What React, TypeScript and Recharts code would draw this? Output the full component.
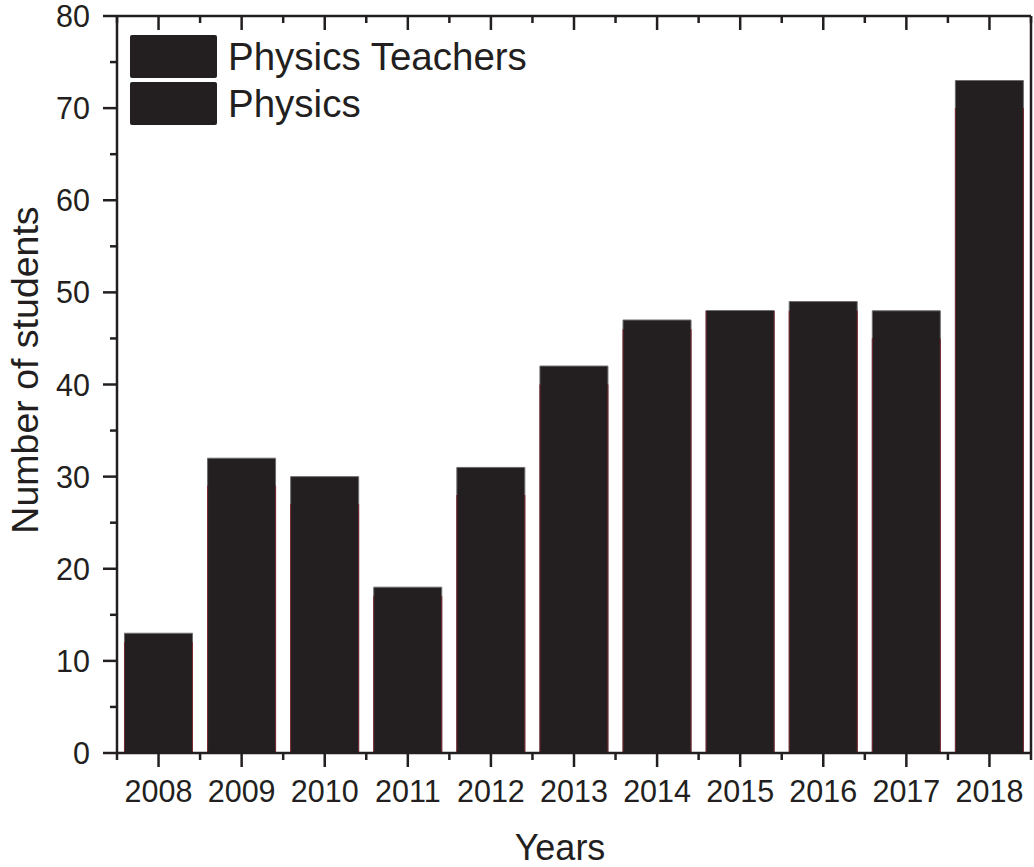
import React from 'react';
import { BarChart, Bar, XAxis, YAxis, Legend } from 'recharts';

// values
const years = ['2008', '2009', '2010', '2011', '2012', '2013', '2014', '2015', '2016', '2017', '2018'];
const physicsTeachers = [13, 32, 30, 18, 31, 42, 47, 48, 49, 48, 73];
const physics = [12, 29, 27, 17, 28, 40, 46, 48, 48, 45, 70];
const yTicks = [0, 5, 10, 15, 20, 25, 30, 35, 40, 45, 50, 55, 60, 65, 70, 75, 80];

const data = years.map((year, i) => ({
  year,
  teachers: physicsTeachers[i],
  physics: physics[i],
}));

const INK = '#231f20';
const EDGE_RED = '#7a2a31';
const FONT = '"Liberation Sans", Arial, sans-serif';
const PLOT_LEFT = 117;
const PLOT_RIGHT = 1031;
const BAND = (PLOT_RIGHT - PLOT_LEFT) / years.length;

const BottomTick = (props: any) => {
  const { x, y, payload, index } = props;
  return (
    <g>
      <line x1={x} y1={y} x2={x} y2={y + 14} stroke={INK} strokeWidth={2.5} />
      <line x1={x - BAND / 2} y1={y} x2={x - BAND / 2} y2={y + 7} stroke={INK} strokeWidth={2.5} />
      {index === years.length - 1 && (
        <line x1={x + BAND / 2} y1={y} x2={x + BAND / 2} y2={y + 7} stroke={INK} strokeWidth={2.5} />
      )}
      <text x={x} y={y + 49} textAnchor="middle" fontSize={30.5} fill={INK} fontFamily={FONT}>
        {payload.value}
      </text>
    </g>
  );
};

const TopTick = (props: any) => {
  const { x, y, index } = props;
  return (
    <g>
      <line x1={x} y1={y} x2={x} y2={y + 14} stroke={INK} strokeWidth={2.5} />
      <line x1={x - BAND / 2} y1={y} x2={x - BAND / 2} y2={y + 7} stroke={INK} strokeWidth={2.5} />
      {index === years.length - 1 && (
        <line x1={x + BAND / 2} y1={y} x2={x + BAND / 2} y2={y + 7} stroke={INK} strokeWidth={2.5} />
      )}
    </g>
  );
};

const LeftTick = (props: any) => {
  const { x, y, payload } = props;
  const major = payload.value % 10 === 0;
  return (
    <g>
      <line x1={x - (major ? 14 : 7)} y1={y} x2={x} y2={y} stroke={INK} strokeWidth={2.5} />
      {major && (
        <text x={x - 27} y={y + 11} textAnchor="end" fontSize={30.5} fill={INK} fontFamily={FONT}>
          {payload.value}
        </text>
      )}
    </g>
  );
};

const RightTick = (props: any) => {
  const { x, y, payload } = props;
  const major = payload.value % 10 === 0;
  return <line x1={x - (major ? 14 : 7)} y1={y} x2={x} y2={y} stroke={INK} strokeWidth={2.5} />;
};

// physics bars: dark fill with thin reddish side edges only
const PhysicsBar = (props: any) => {
  const { x, y, width, height } = props;
  if (!height || height <= 0) return null;
  return (
    <g>
      <rect x={x} y={y} width={width} height={height} fill={INK} />
      <line x1={x} y1={y} x2={x} y2={y + height} stroke={EDGE_RED} strokeWidth={1} />
      <line x1={x + width} y1={y} x2={x + width} y2={y + height} stroke={EDGE_RED} strokeWidth={1} />
    </g>
  );
};

const legendItems = ['Physics Teachers', 'Physics'];

const ChartLegend = () => (
  <div style={{ fontFamily: FONT }}>
    {legendItems.map((name) => (
      <div key={name} style={{ display: 'flex', alignItems: 'center', height: 43, marginBottom: 4 }}>
        <div style={{ width: 87, height: 43, background: INK, borderRadius: 2 }} />
        <span style={{ marginLeft: 11, fontSize: 38.5, color: INK, lineHeight: '43px', whiteSpace: 'nowrap' }}>
          {name}
        </span>
      </div>
    ))}
  </div>
);

export default function App() {
  return (
    <div style={{ position: 'absolute', left: 0, top: 0, background: '#fff' }}>
      <BarChart
        width={1034}
        height={867}
        data={data}
        margin={{ top: 0, right: 0, bottom: 0, left: 0 }}
        barCategoryGap="9%"
      >
        <XAxis
          xAxisId="bottom"
          dataKey="year"
          orientation="bottom"
          height={114}
          interval={0}
          tickLine={false}
          tickSize={0}
          tickMargin={0}
          axisLine={{ stroke: INK, strokeWidth: 2.5 }}
          tick={BottomTick}
          label={() => (
            <text x={560} y={860} textAnchor="middle" fontSize={36} fill={INK} fontFamily={FONT}>
              Years
            </text>
          )}
        />
        <XAxis
          xAxisId="top"
          dataKey="year"
          orientation="top"
          height={16}
          interval={0}
          tickLine={false}
          tickSize={0}
          tickMargin={0}
          axisLine={{ stroke: INK, strokeWidth: 2.5 }}
          tick={TopTick}
        />
        <YAxis
          yAxisId="left"
          orientation="left"
          width={PLOT_LEFT}
          domain={[0, 80]}
          ticks={yTicks}
          interval={0}
          tickLine={false}
          tickSize={0}
          tickMargin={0}
          axisLine={{ stroke: INK, strokeWidth: 2.5 }}
          tick={LeftTick}
          label={() => (
            <text
              x={38}
              y={370}
              transform="rotate(-90 38 370)"
              textAnchor="middle"
              fontSize={37.5}
              fill={INK}
              fontFamily={FONT}
            >
              Number of students
            </text>
          )}
        />
        <YAxis
          yAxisId="right"
          orientation="right"
          width={1034 - PLOT_RIGHT}
          domain={[0, 80]}
          ticks={yTicks}
          interval={0}
          tickLine={false}
          tickSize={0}
          tickMargin={0}
          axisLine={{ stroke: INK, strokeWidth: 2.5 }}
          tick={RightTick}
        />
        <Legend
          layout="vertical"
          verticalAlign="middle"
          align="center"
          content={ChartLegend}
          wrapperStyle={{ left: 130, top: 35, width: 'auto', height: 'auto' }}
        />
        <Bar
          xAxisId="bottom"
          yAxisId="left"
          dataKey="teachers"
          name="Physics Teachers"
          fill={INK}
          stroke="#6d6a6b"
          strokeWidth={1}
          isAnimationActive={false}
        />
        <Bar
          xAxisId="top"
          yAxisId="left"
          dataKey="physics"
          name="Physics"
          fill={INK}
          shape={PhysicsBar}
          isAnimationActive={false}
        />
      </BarChart>
    </div>
  );
}
